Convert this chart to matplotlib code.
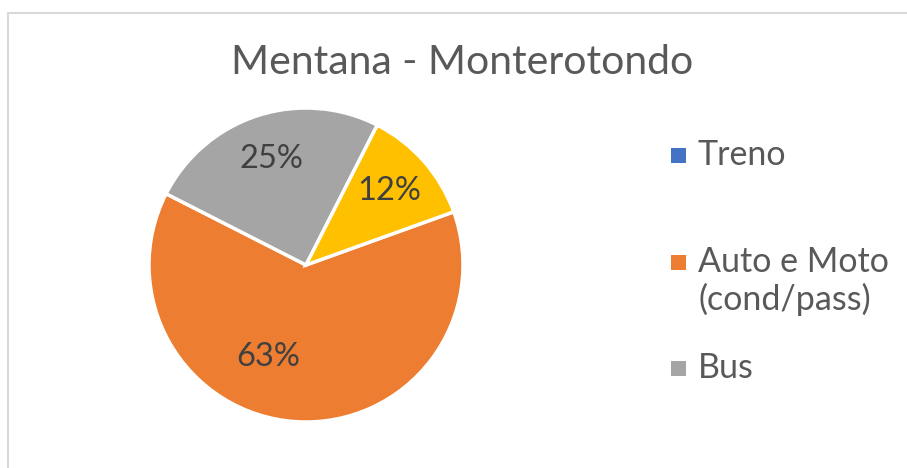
import matplotlib
matplotlib.use("Agg")
import matplotlib.pyplot as plt
from matplotlib.patches import Rectangle
import numpy as np

plt.rcParams['font.family'] = ['Lato', 'DejaVu Sans']

title = "Mentana - Monterotondo"
categories = ["Treno", "Auto e Moto\n(cond/pass)", "Bus", "Altro"]
values = [0, 63, 25, 12]
colors = ["#4472C4", "#ED7D31", "#A5A5A5", "#FFC000"]
legend_count = 3

W, H = 907, 468
fig = plt.figure(figsize=(W / 100, H / 100), dpi=100)

# chart border (only top and left visible)
fig.patches.append(Rectangle((8 / W, -0.1), 1.2, (H - 13) / H + 0.1, transform=fig.transFigure,
                             fill=False, edgecolor="#D9D9D9", linewidth=1.5))

cx, cy, r = 306, 265, 157
ax = fig.add_axes([(cx - r) / W, (H - cy - r) / H, 2 * r / W, 2 * r / H])
wedges, texts, autotexts = ax.pie(
    values, colors=colors, startangle=90 - 70.2, counterclock=False,
    autopct=lambda p: f"{p:.0f}%" if p > 0 else "", pctdistance=0.71,
    wedgeprops=dict(edgecolor="white", linewidth=2.5, clip_on=False),
    textprops=dict(fontsize=23.5, color="#404040"), radius=1.0)
ax.set_xlim(-1.0, 1.0)
ax.set_ylim(-1.0, 1.0)
ax.set_aspect("equal")
ax.axis("off")

# Excel best-fit placement for the large slice label
ang = np.deg2rad(90 - 202)
autotexts[1].set_position((0.635 * np.cos(ang), 0.635 * np.sin(ang)))

fig.text(462 / W, 1 - 63 / H, title, ha="center", va="center", fontsize=29.5, color="#595959")

# legend (Excel-like uneven spacing; marker aligned with first text line)
text_y = [155, 281, 368]
marker_y = [155, 262, 368]
for i in range(legend_count):
    fig.patches.append(Rectangle((671 / W, 1 - (marker_y[i] + 7.5) / H), 15 / W, 15 / H,
                                 transform=fig.transFigure, facecolor=colors[i], edgecolor="none"))
    fig.text(698 / W, 1 - text_y[i] / H, categories[i], ha="left", va="center", fontsize=24.5,
             color="#595959", linespacing=1.15)

fig.savefig("out.png", dpi=100, facecolor="white")
